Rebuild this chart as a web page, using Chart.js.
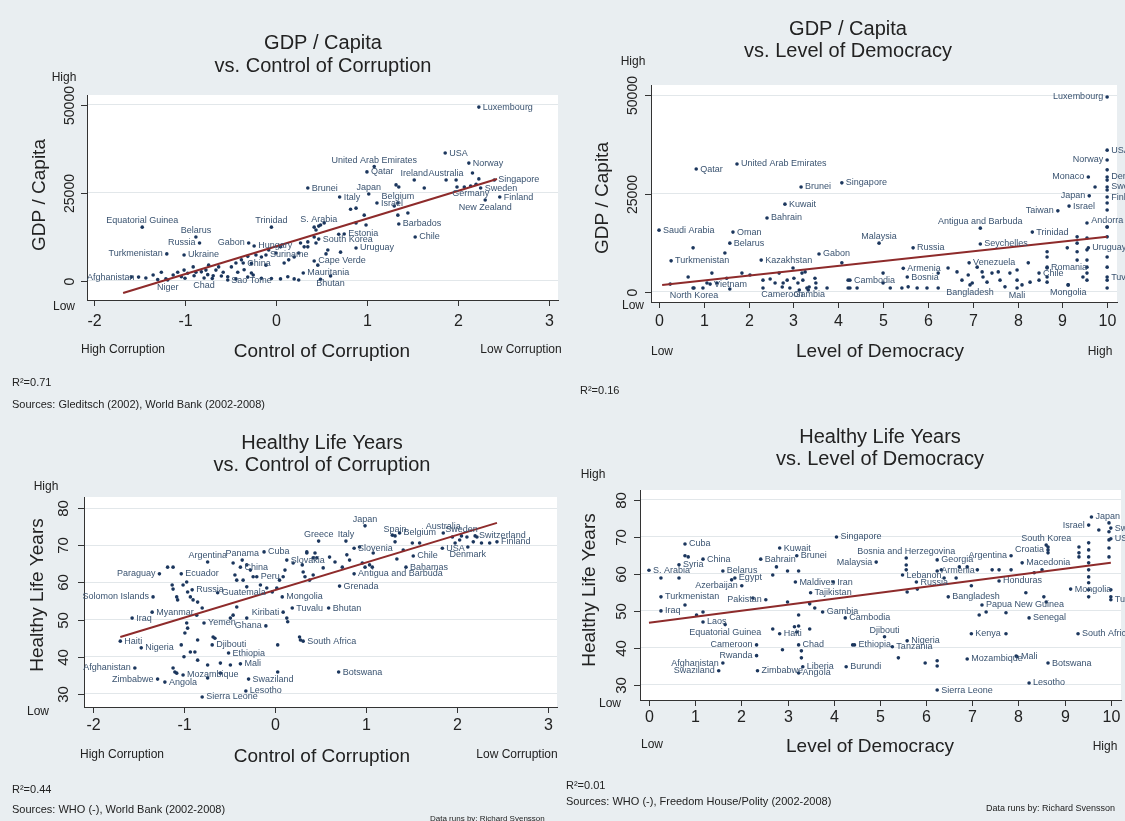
<!DOCTYPE html>
<html><head><meta charset="utf-8">
<script src="https://cdn.jsdelivr.net/npm/chart.js@4.4.1/dist/chart.umd.min.js"></script>
<style>
html,body{margin:0;padding:0;background:#e9eef1;width:1125px;height:821px;overflow:hidden;}
canvas{position:absolute;left:0;top:0;}
</style></head><body>
<canvas id="c1" width="1125" height="821"></canvas>
<canvas id="c2" width="1125" height="821"></canvas>
<canvas id="c3" width="1125" height="821"></canvas>
<canvas id="c4" width="1125" height="821"></canvas>
<script>
// ================= DATA =================
// --- Panel 1: GDP / Capita vs Control of Corruption ---
const gdpCorrNames = ["Luxembourg","USA","Norway","United Arab Emirates","Qatar","Ireland","Australia","Singapore","Sweden","Germany","Finland","New Zealand","Japan","Brunei","Italy","Israel","Belgium","Barbados","Chile","S. Arabia","Estonia","South Korea","Uruguay","Cape Verde","Mauritania","Bhutan","Trinidad","Equatorial Guinea","Belarus","Russia","Gabon","Hungary","Suriname","Ukraine","Turkmenistan","China","Afghanistan","Niger","Chad","Sao Tome"];
const gdpCorrX = [2.23,1.86,2.12,1.08,1.0,1.52,1.87,2.40,2.25,2.14,2.46,2.30,1.02,0.35,0.70,1.11,1.34,1.35,1.53,0.47,0.75,0.47,0.88,0.42,0.30,0.60,-0.05,-1.47,-0.88,-0.84,-0.30,-0.24,-0.11,-1.01,-1.20,-0.36,-1.51,-1.19,-0.79,-0.27];
const gdpCorrY = [49400,36350,33500,32500,31000,28700,28700,28700,26400,27000,23850,23000,24700,26400,23850,22150,22150,16200,12500,15600,13350,11900,9370,5700,2270,1400,15300,15300,12500,10800,10800,9940,7400,7400,7700,5100,1100,300,850,2270];
const gdpCorrOtherX = [-1.59,-1.43,-1.35,-1.26,-1.21,-1.13,-1.08,-1.04,-1.01,-0.97,-0.91,-0.88,-0.82,-0.77,-0.74,-0.69,-0.66,-0.63,-0.58,-0.53,-0.49,-0.44,-0.42,-0.38,-0.35,-0.31,-0.27,-0.25,-0.22,-0.16,-0.11,-0.08,0.0,0.05,0.09,0.14,0.20,0.25,0.31,0.35,0.42,0.44,0.46,0.13,0.20,0.25,0.05,-0.05,-0.16,-0.31,-0.44,-0.53,0.49,-1.3,-1.0,-0.9,-0.75,-0.6,-0.7,0.82,0.88,0.97,0.99,0.88,1.32,1.35,1.63,1.34,1.45,1.30,1.98,1.99,2.07,2.16,2.20,2.23,0.27,0.35,0.44,0.55,0.57,0.71,0.69,0.49,0.53,0.42];
const gdpCorrOtherY = [1100,850,1700,2500,600,1700,2500,1200,3100,2200,4000,2500,2600,3100,4500,1500,3100,4000,2500,1200,4000,5100,2500,6000,3200,7000,5000,1700,7400,6800,4500,8800,7950,9700,5100,6000,6800,7950,9700,11100,12500,14500,4500,1200,600,300,600,700,800,1100,600,300,500,400,800,1500,1800,1400,700,20400,20700,18700,15900,16500,27300,26700,26400,18700,19300,21300,28700,26700,26700,30700,27500,29000,10800,9700,10800,7700,8800,8200,13300,15900,16500,15300];
const gdpCorrFitX = [-1.68, 2.43];
const gdpCorrFitY = [-3400, 28970];

// --- Panel 2: GDP / Capita vs Level of Democracy ---
const gdpDemoNames = ["Luxembourg","USA","Norway","Monaco","Denmark","Sweden","Finland","Japan","Israel","Taiwan","Andorra","Trinidad","Antigua and Barbuda","Seychelles","Uruguay","Romania","Chile","Tuvalu","Venezuela","Armenia","Bosnia","Cambodia","Bangladesh","Mali","Mongolia","Malaysia","Russia","Singapore","Brunei","Kuwait","Bahrain","Qatar","United Arab Emirates","Saudi Arabia","Oman","Belarus","Turkmenistan","Kazakhstan","Gabon","Vietnam","North Korea","Cameroon","Gambia"];
const gdpDemoX = [10,10,10,9.58,10,10,10,9.6,9.15,8.9,10,8.33,7.17,7.17,9.58,8.66,8.48,10,6.92,5.45,5.54,4.26,6.94,7.99,9.13,4.91,5.67,4.08,3.17,2.81,2.41,0.83,1.74,0.0,1.65,1.58,0.27,2.28,3.57,1.14,0.78,2.75,3.35];
const gdpDemoY = [49500,36000,33500,29200,29200,26650,24100,24400,21800,20600,16500,15200,16200,12200,11200,6300,4800,3800,7400,6000,3800,3000,1800,1000,1800,12400,11200,27700,26650,22300,18800,31200,32500,15700,15200,12400,7900,8100,9650,2000,1000,1270,1270];
const gdpDemoOtherX = [0.25,0.65,0.76,0.98,1.07,1.18,1.29,1.47,1.51,1.58,1.85,2.03,2.32,2.32,2.48,2.59,2.68,2.77,2.86,2.92,2.99,3.01,3.10,3.13,3.19,3.21,3.26,3.30,3.33,3.48,3.50,3.50,3.75,4.22,4.22,0.76,4.08,
  4.26,4.42,5.0,5.0,5.16,5.42,5.56,5.76,5.98,6.23,6.23,6.45,6.65,6.76,6.90,6.99,7.10,7.21,7.23,7.32,7.43,7.57,7.61,7.72,7.83,7.99,7.99,8.10,8.24,8.28,8.48,8.66,8.66,8.66,8.66,8.66,9.11,9.13,9.33,9.33,9.33,9.33,9.46,9.55,9.55,9.55,9.55,9.55,9.55,9.55,9.73,10,10,10,10,10,10,10,10,10,10,10];
const gdpDemoOtherY = [2000,3800,1000,1000,2300,4800,2300,9900,3500,760,4800,4300,3000,1000,3300,2300,4800,2300,3000,1000,6100,3500,2300,500,4800,3000,5100,1000,500,3500,2300,1000,1000,3000,1000,11200,7400,
  1000,1000,4800,2300,1000,1000,1300,1000,1000,4800,1000,6100,5100,3000,4300,2300,6300,5100,3800,2500,4800,5100,3000,1300,4800,5600,3000,1800,7400,2500,3000,10200,8900,6100,3800,2500,11200,1800,14000,12400,10200,8100,3800,17500,13700,10700,8100,6300,4800,3000,26650,31000,28400,25900,22600,20800,16500,14000,8900,6300,3000,1000];
const gdpDemoFitX = [0.07, 10];
const gdpDemoFitY = [1800, 14000];

// --- Panel 3: Healthy Life Years vs Control of Corruption ---
const lifeCorrNames = ["Argentina","Panama","Cuba","Slovakia","China","Peru","Paraguay","Ecuador","Russia","Guatemala","Solomon Islands","Mongolia","Myanmar","Tuvalu","Bhutan","Kiribati","Iraq","Yemen","Ghana","Haiti","Nigeria","Djibouti","Ethiopia","Mali","Afghanistan","Zimbabwe","Angola","Mozambique","Swaziland","Lesotho","Sierra Leone","South Africa","Botswana","Grenada","Antigua and Barbuda","Bahamas","Chile","Slovenia","Greece","Italy","Japan","Spain","Belgium","Australia","Sweden","Switzerland","Finland","USA","Denmark"];
const lifeCorrX = [-0.74,-0.36,-0.12,0.13,-0.38,-0.2,-1.27,-1.03,-0.91,-0.63,-1.34,0.08,-1.35,0.19,0.59,0.09,-1.57,-0.78,-0.10,-1.70,-1.47,-0.69,-0.51,-0.38,-1.54,-1.29,-1.21,-1.01,-0.29,-0.32,-0.80,0.31,0.70,0.71,0.87,1.44,1.52,0.87,0.48,0.78,0.99,1.32,1.37,1.85,2.05,2.20,2.44,1.84,2.12];
const lifeCorrY = [65.5,66,68.2,66,64.1,61.5,62.3,62.3,58,57.2,56.1,56.1,52,53.1,53.1,52,50.4,49.1,48.3,44.2,42.4,43.2,41,38.1,37,34,33.2,35.1,34,30.8,29.2,44.2,35.9,59,62.3,64.1,67.1,69.2,71.1,71.1,75.2,72.5,73.3,73.3,72.5,72.5,70.9,69.2,69.5];
const lifeCorrOtherX = [-1.18,-1.12,-1.13,-1.12,-1.08,-1.07,-1.01,-0.97,-0.96,-0.93,-0.90,-0.85,-0.80,-0.86,-0.97,-0.96,-0.99,-1.03,-0.93,-0.88,-1.0,-0.85,-0.74,-0.60,-1.12,-1.1,-1.08,-0.68,-0.66,-0.85,-0.31,-0.27,-0.24,-0.46,-0.44,-0.42,-0.35,-0.31,-0.16,-0.09,-0.03,0.02,0.05,0.09,0.11,0.20,0.30,0.35,0.42,0.46,0.31,0.33,0.38,0.42,-0.46,-0.49,-0.42,-0.31,0.03,0.03,0.13,0.14,0.27,-0.74,-0.60,-0.49,
  0.35,0.44,0.60,0.66,0.74,0.79,0.82,0.96,0.99,1.04,1.08,0.93,1.29,1.32,1.34,1.41,1.51,1.59,1.95,1.98,2.03,2.11,2.18,2.22,2.27,2.36,1.07,0.53,0.28];
const lifeCorrOtherY = [64.1,64.1,59.3,58.2,56.1,55.3,59.3,60.1,57.4,56.1,55.3,54.7,53.1,51.2,49.1,47.7,46.4,43.2,41.3,41.3,40.0,39.1,37.8,38.3,37.0,35.9,35.6,45.3,45.0,44.5,64.7,63.3,61.5,65.2,62.0,60.6,60.6,58.8,59.3,58.5,57.4,58.5,60.6,61.5,63.3,65.2,64.7,67.9,66.6,66.6,62.8,61.5,60.6,62.0,51.2,50.4,53.4,50.4,43.2,35.9,50.4,49.4,45.3,34.3,35.6,37.8,
  68.2,67.9,66.8,65.5,64.1,67.4,66.0,65.2,64.1,64.7,67.9,69.5,72.7,70.9,66.3,68.7,70.6,70.6,72.2,70.6,71.4,72.2,70.9,72.2,70.6,70.6,64.1,63.9,44.5];
const lifeCorrFitX = [-1.70, 2.44];
const lifeCorrFitY = [45.3, 76.0];

// --- Panel 4: Healthy Life Years vs Level of Democracy ---
const lifeDemoNames = ["Cuba","S. Arabia","Syria","China","Belarus","Egypt","Azerbaijan","Turkmenistan","Pakistan","Iraq","Laos","Equatorial Guinea","Cameroon","Rwanda","Afghanistan","Swaziland","Zimbabwe","Kuwait","Bahrain","Brunei","Maldives","Iran","Tajikistan","Gambia","Haiti","Chad","Liberia","Angola","Singapore","Cambodia","Burundi","Malaysia","Djibouti","Ethiopia","Nigeria","Tanzania","Bosnia and Herzegovina","Lebanon","Russia","Georgia","Armenia","Argentina","Honduras","Bangladesh","Papua New Guinea","Senegal","Kenya","Mozambique","Mali","Botswana","Lesotho","Sierra Leone","South Korea","Croatia","Macedonia","Israel","Japan","Mongolia","South Africa","Tuvalu","Sweden","USA"];
const lifeDemoX = [0.78,0.0,0.65,1.17,1.60,1.86,2.01,0.26,2.53,0.26,1.17,1.65,2.33,2.33,1.60,1.51,2.35,2.83,2.42,3.2,3.17,3.99,3.50,3.76,2.83,3.24,3.33,3.24,4.06,4.25,4.27,4.92,5.1,4.45,5.59,5.27,5.57,5.49,5.79,6.24,6.24,7.84,7.58,6.48,7.21,8.23,6.98,6.89,7.97,8.64,8.23,6.24,8.6,8.64,8.08,9.52,9.58,9.13,9.29,10,10,10];
const lifeDemoY = [68.1,61,62.5,64,60.8,58.9,56.8,53.8,53,50,47,46.3,40.8,37.9,35.9,33.8,33.8,67,64,64.9,57.8,57.8,54.9,49.7,43.8,40.8,34.9,33.2,70,48.1,34.9,63.2,43,40.8,41.9,40.3,64.3,59.7,57.8,63.8,60.8,64.9,58.1,53.8,51.6,48.1,43.8,37,37.6,35.9,30.5,28.6,67.8,66.5,63,73.2,75.4,55.9,43.8,53,72.4,69.5];
const lifeDemoOtherX = [0.26,0.65,0.78,0.85,1.03,0.78,1.17,1.79,2.25,2.68,2.76,3.0,3.24,3.0,3.24,3.24,3.15,3.2,2.68,3.48,3.48,3.59,3.3,3.3,2.89,4.41,
  5.57,5.57,5.59,5.81,6.33,6.39,6.65,6.72,6.89,6.98,7.11,7.15,7.30,7.43,7.58,7.73,7.84,7.73,8.16,8.34,8.51,8.55,8.60,8.64,8.64,9.31,9.31,9.31,9.52,9.52,9.52,9.52,9.52,9.52,9.52,9.52,9.52,9.74,9.96,9.96,9.96,9.96,9.96,10,10,5.40,5.98,6.24,6.24,7.95];
const lifeDemoOtherY = [58.9,58.9,64.9,64.6,48.9,51.6,49.7,58.4,53.5,59.7,61.9,60.8,60.8,52.4,48.9,45.9,45.7,44.3,45.1,45.1,51.9,50.8,39.2,37.3,39.5,40.8,
  62.4,61.1,55.1,55.9,61.1,58.9,58.9,61.9,61.9,56.8,61.1,48.9,49.7,61.1,61.1,49.5,61.1,43.8,54.9,60.3,61.1,53.8,52.4,67.3,65.7,67.3,65.7,64.6,68.4,66.5,64.6,63.0,61.1,59.2,57.6,55.7,53.8,71.9,73.8,71.4,69.2,67.0,64.6,55.7,53.8,37.3,35.9,36.5,35.1,37.8];
const lifeDemoFitX = [0, 10];
const lifeDemoFitY = [46.8, 63.0];

// --- tick labels ---
const gdpTicks = [0, 25000, 50000];
const lifeTicks = [30, 40, 50, 60, 70, 80];
const corrTicks = [-2, -1, 0, 1, 2, 3];
const demoTicks = [0, 1, 2, 3, 4, 5, 6, 7, 8, 9, 10];

// ================= STYLE (label clock positions: 3 right, 9 left, 12 above, 6 below) =================
const gdpCorrLabelPos = [3,3,3,12,3,12,12,3,3,6,3,6,12,3,3,3,12,3,3,12,3,3,3,3,3,6,12,12,12,9,9,3,3,3,9,3,9,6,6,6];
const gdpDemoLabelPos = [9,3,9,9,3,3,3,9,3,9,12,3,12,3,3,3,3,3,3,3,3,3,6,6,6,12,3,3,3,3,3,3,3,3,3,3,3,3,3,3,6,6,6];
const lifeCorrLabelPos = [12,12,3,3,3,3,9,3,3,3,9,3,3,3,3,9,3,3,9,3,3,3,3,3,9,9,3,3,3,3,3,3,3,3,3,3,3,3,12,12,12,12,3,12,12,3,3,3,6];
const lifeDemoLabelPos = [3,3,3,3,3,3,9,3,9,3,3,6,9,9,9,9,3,3,3,3,3,3,3,3,3,3,3,3,3,3,3,9,12,3,3,3,12,3,3,3,3,9,3,3,3,3,3,3,3,3,3,3,12,9,3,9,3,3,3,3,3,3];

const FONT = '"Liberation Sans", Arial, sans-serif';
const NFONT = '"Liberation Sans Narrow", "Liberation Sans", Arial, sans-serif';
const TXT = '#222';
const DOT = '#1b365d';
const LBL = '#3a5370';
const FIT = '#8e2b2b';

const panels = [
 { id:'c1', area:{l:87,r:558,t:95,b:300}, xMin:-2.077, xMax:3.1, yMin:-5400, yMax:52840,
   xTicks:corrTicks, yTicks:gdpTicks, names:gdpCorrNames, X:gdpCorrX, Y:gdpCorrY, pos:gdpCorrLabelPos,
   oX:gdpCorrOtherX, oY:gdpCorrOtherY, fX:gdpCorrFitX, fY:gdpCorrFitY, font:FONT,
   yLabX:70, xLabY:322, xTickSize:16, yTickSize:14,
   texts:[
    ["GDP / Capita",323,43,20,'center',0],["vs. Control of Corruption",323,66,20,'center',0],
    ["GDP / Capita",40,195,19,'center',-90],
    ["High",64,78,12,'center',0],["Low",64,307,12,'center',0],
    ["Control of Corruption",322,352,19,'center',0],["High Corruption",123,350,12,'center',0],["Low Corruption",521,350,12,'center',0],
    ["R²=0.71",12,383,11,'left',0],["Sources: Gleditsch (2002), World Bank (2002-2008)",12,405,11,'left',0]
   ]},
 { id:'c2', area:{l:651,r:1117,t:85,b:302}, xMin:-0.179, xMax:10.22, yMin:-2540, yMax:52540,
   xTicks:demoTicks, yTicks:gdpTicks, names:gdpDemoNames, X:gdpDemoX, Y:gdpDemoY, pos:gdpDemoLabelPos,
   oX:gdpDemoOtherX, oY:gdpDemoOtherY, fX:gdpDemoFitX, fY:gdpDemoFitY, font:FONT,
   yLabX:633, xLabY:322, xTickSize:16, yTickSize:14,
   texts:[
    ["GDP / Capita",848,29,20,'center',0],["vs. Level of Democracy",848,51,20,'center',0],
    ["GDP / Capita",603,198,19,'center',-90],
    ["High",633,62,12,'center',0],["Low",633,306,12,'center',0],
    ["Level of Democracy",880,352,19,'center',0],["Low",662,352,12,'center',0],["High",1100,352,12,'center',0],
    ["R²=0.16",580,391,11,'left',0]
   ]},
 { id:'c3', area:{l:84,r:557,t:497,b:707}, xMin:-2.099, xMax:3.1, yMin:26.5, yMax:82.96,
   xTicks:corrTicks, yTicks:lifeTicks, names:lifeCorrNames, X:lifeCorrX, Y:lifeCorrY, pos:lifeCorrLabelPos,
   oX:lifeCorrOtherX, oY:lifeCorrOtherY, fX:lifeCorrFitX, fY:lifeCorrFitY, font:NFONT,
   yLabX:64, xLabY:726, xTickSize:16, yTickSize:15,
   texts:[
    ["Healthy Life Years",322,443,20,'center',0],["vs. Control of Corruption",322,465,20,'center',0],
    ["Healthy Life Years",38,595,19,'center',-90],
    ["High",46,487,12,'center',0],["Low",38,712,12,'center',0],
    ["Control of Corruption",322,757,19,'center',0],["High Corruption",122,755,12,'center',0],["Low Corruption",517,755,12,'center',0],
    ["R²=0.44",12,790,11,'left',0],["Sources: WHO (-), World Bank (2002-2008)",12,810,11,'left',0],
    ["Data runs by: Richard Svensson",430,819,8,'left',0]
   ]},
 { id:'c4', area:{l:640,r:1122,t:490,b:700}, xMin:-0.194, xMax:10.22, yMin:25.9, yMax:82.7,
   xTicks:demoTicks, yTicks:lifeTicks, names:lifeDemoNames, X:lifeDemoX, Y:lifeDemoY, pos:lifeDemoLabelPos,
   oX:lifeDemoOtherX, oY:lifeDemoOtherY, fX:lifeDemoFitX, fY:lifeDemoFitY, font:NFONT,
   yLabX:622, xLabY:718, xTickSize:16, yTickSize:15,
   texts:[
    ["Healthy Life Years",880,437,20,'center',0],["vs. Level of Democracy",880,459,20,'center',0],
    ["Healthy Life Years",590,590,19,'center',-90],
    ["High",593,475,12,'center',0],["Low",610,704,12,'center',0],
    ["Level of Democracy",870,747,19,'center',0],["Low",652,745,12,'center',0],["High",1105,747,12,'center',0],
    ["R²=0.01",566,786,11,'left',0],["Sources: WHO (-), Freedom House/Polity (2002-2008)",566,802,11,'left',0],
    ["Data runs by: Richard Svensson",1115,809,9,'right',0]
   ]}
];

function pts(X, Y){ const n=Math.min(X.length,Y.length); const o=[]; for(let i=0;i<n;i++) o.push({x:X[i],y:Y[i]}); return o; }

function makeDecor(P){
  return {
    id:'decor_'+P.id,
    beforeDraw(chart){
      const {ctx, chartArea:a} = chart;
      ctx.save(); ctx.fillStyle='#ffffff'; ctx.fillRect(a.left,a.top,a.right-a.left,a.bottom-a.top); ctx.restore();
    },
    afterDraw(chart){
      const ctx=chart.ctx, xs=chart.scales.x, ys=chart.scales.y, a=chart.chartArea;
      ctx.save();
      // point labels
      ctx.font = '9px '+P.font; ctx.fillStyle = LBL;
      const n=Math.min(P.names.length,P.X.length,P.Y.length);
      for(let i=0;i<n;i++){
        const px=xs.getPixelForValue(P.X[i]), py=ys.getPixelForValue(P.Y[i]); const pos=P.pos[i]||3;
        if(pos===9){ctx.textAlign='right';ctx.textBaseline='middle';ctx.fillText(P.names[i],px-4,py);}
        else if(pos===12){ctx.textAlign='center';ctx.textBaseline='bottom';ctx.fillText(P.names[i],px,py-2);}
        else if(pos===6){ctx.textAlign='center';ctx.textBaseline='top';ctx.fillText(P.names[i],px,py+3);}
        else {ctx.textAlign='left';ctx.textBaseline='middle';ctx.fillText(P.names[i],px+4,py);}
      }
      // ticks
      ctx.strokeStyle='#333'; ctx.lineWidth=1; ctx.fillStyle=TXT;
      ctx.font = P.xTickSize+'px '+P.font; ctx.textAlign='center'; ctx.textBaseline='middle';
      P.xTicks.forEach(v=>{ const px=Math.round(xs.getPixelForValue(v))+0.5;
        ctx.beginPath(); ctx.moveTo(px,a.bottom); ctx.lineTo(px,a.bottom+6); ctx.stroke();
        ctx.fillText(String(v),px,P.xLabY); });
      ctx.font = P.yTickSize+'px '+P.font;
      P.yTicks.forEach(v=>{ const py=Math.round(ys.getPixelForValue(v))+0.5;
        ctx.beginPath(); ctx.moveTo(a.left,py); ctx.lineTo(a.left-6,py); ctx.stroke();
        ctx.save(); ctx.translate(P.yLabX,py); ctx.rotate(-Math.PI/2); ctx.textAlign='center'; ctx.textBaseline='middle';
        ctx.fillText(String(v),0,0); ctx.restore(); });
      // texts
      P.texts.forEach(t=>{
        ctx.save(); ctx.font = t[3]+'px '+P.font; ctx.fillStyle=TXT; ctx.textAlign=t[4]; ctx.textBaseline='middle';
        ctx.translate(t[1],t[2]); if(t[5]) ctx.rotate(t[5]*Math.PI/180); ctx.fillText(t[0],0,0); ctx.restore();
      });
      ctx.restore();
    }
  };
}

panels.forEach(P=>{
  new Chart(document.getElementById(P.id), {
    type:'scatter',
    data:{ datasets:[
      { type:'line', data:pts(P.fX,P.fY), borderColor:FIT, borderWidth:2, pointRadius:0, fill:false, tension:0 },
      { data:pts(P.X,P.Y), pointRadius:1.8, pointBackgroundColor:DOT, pointBorderWidth:0, backgroundColor:DOT, borderColor:DOT },
      { data:pts(P.oX,P.oY), pointRadius:1.8, pointBackgroundColor:DOT, pointBorderWidth:0, backgroundColor:DOT, borderColor:DOT }
    ]},
    options:{
      responsive:false, animation:false, events:[],
      layout:{ padding:{ left:P.area.l, right:1125-P.area.r, top:P.area.t, bottom:821-P.area.b } },
      plugins:{ legend:{display:false}, tooltip:{enabled:false} },
      scales:{
        x:{ type:'linear', min:P.xMin, max:P.xMax, grid:{display:false, drawTicks:false}, ticks:{display:false}, border:{display:true,color:'#333',width:1} },
        y:{ type:'linear', min:P.yMin, max:P.yMax,
            afterBuildTicks:(s)=>{ s.ticks = P.yTicks.map(v=>({value:v})); },
            grid:{color:'#e2e7ea', lineWidth:1, drawTicks:false}, ticks:{display:false}, border:{display:true,color:'#333',width:1} }
      }
    },
    plugins:[makeDecor(P)]
  });
});
</script>
</body></html>
